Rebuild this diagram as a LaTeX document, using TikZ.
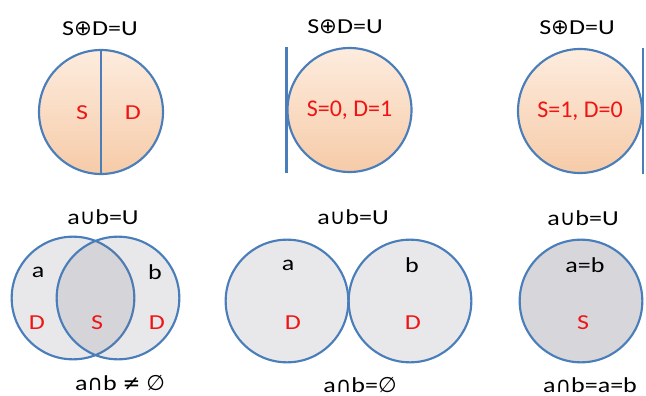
\documentclass[tikz,border=0pt]{standalone}
\usepackage{fontspec}
\setmainfont{Carlito}[FakeStretch=1.22]
\newfontfamily\plainf{Carlito}
\newfontfamily\symf{DejaVu Sans}
\usepackage{xcolor}

\definecolor{ringblue}{RGB}{74,126,187}
\definecolor{peachtop}{RGB}{253,236,222}
\definecolor{peachbot}{RGB}{246,203,168}
\definecolor{venngray}{RGB}{110,110,125}
\definecolor{fullgray}{RGB}{214,214,219}
\definecolor{labred}{RGB}{240,20,20}

\newcommand{\xor}{{\symf\char"2295}}
\newcommand{\uni}{{\symf\char"222A}}
\newcommand{\isect}{{\symf\char"2229}}
\newcommand{\neset}{{\symf\char"2260}}
\newcommand{\nullset}{{\symf\char"2205}}

\begin{document}
\begin{tikzpicture}[x=0.75pt, y=-0.75pt,
every node/.style={align=center, font=\fontsize{16}{18}\selectfont},
peach/.style={circle, draw=ringblue, line width=1.6pt, minimum size=93pt, inner sep=0pt,
  top color=peachtop, bottom color=peachbot, text=labred,
  font=\plainf\fontsize{18}{20}\selectfont},
setdisk/.style={circle, draw=ringblue, line width=1.6pt, minimum size=92pt, inner sep=0pt,
  fill=venngray, fill opacity=0.16, draw opacity=1, text opacity=1},
wall/.style={draw=ringblue, line width=1.6pt},
redlab/.style={text=labred}]

\useasboundingbox (0,0) rectangle (646,396);

% top row: S xor D
\node (top1) at (100,29) {S\xor D=U};
\node[peach] (c1) at (101,112) {};
\node[redlab] (s1) at (82,113) {S};
\node[redlab] (d1) at (133,113) {D};
\draw[wall] (c1.north) -- (c1.south);

\node (top2) at (345,27) {S\xor D=U};
\node[peach] (c2) at (349.5,110) {S=0, D=1};
\draw[wall] (c2.west |- c2.north) -- (c2.west |- c2.south);

\node (top3) at (577,28) {S\xor D=U};
\node[peach] (c3) at (580,111) {S=1, D=0};
\draw[wall] (c3.east |- c3.north) -- (c3.east |- c3.south);

% bottom row: a and b
\node (mid4) at (103,217) {a\uni b=U};
\node[setdisk] (a4) at (73,298) {};
\node[setdisk] (b4) at (118,298) {};
\node (la4) at (38,272) {a};
\node (lb4) at (155,272) {b};
\node[redlab] (d4) at (37,323) {D};
\node[redlab] (s4) at (97,323) {S};
\node[redlab] (e4) at (157,323) {D};
\node (bot4) at (120,383) {a\isect b \neset\ \nullset};

\node (mid5) at (353,217) {a\uni b=U};
\node[setdisk] (a5) at (287,301) {};
\node[setdisk] (b5) at (410,301) {};
\node (la5) at (288,265) {a};
\node (lb5) at (412,265) {b};
\node[redlab] (d5) at (293,323) {D};
\node[redlab] (e5) at (413,323) {D};
\node (bot5) at (360,385) {a\isect b=\nullset};

\node (mid6) at (583,218) {a\uni b=U};
\node[setdisk, fill=fullgray, fill opacity=1] (c6) at (581,301) {};
\node (lab6) at (585,265) {a=b};
\node[redlab] (s6) at (583,323) {S};
\node (bot6) at (590,385) {a\isect b=a=b};

\end{tikzpicture}
\end{document}
